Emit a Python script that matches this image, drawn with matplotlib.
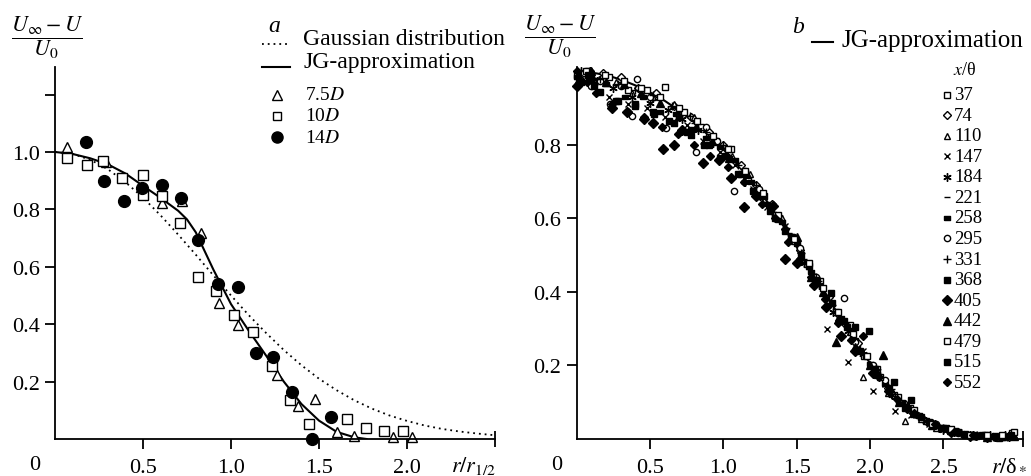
import matplotlib.pyplot as plt
from matplotlib.lines import Line2D

W, H = 1031, 477

plt.rcParams['font.family'] = ['Liberation Serif', 'DejaVu Serif']
plt.rcParams['mathtext.fontset'] = 'stix'

# ---------- panel a ----------
gauss_x = [0.0, 0.1, 0.2, 0.3, 0.4, 0.5, 0.6, 0.7, 0.8, 0.9, 1.0, 1.1, 1.2,
           1.3, 1.4, 1.5, 1.6, 1.7, 1.8, 1.9, 2.0, 2.1, 2.2, 2.3, 2.4, 2.5]
gauss_y = [1.000, 0.993, 0.973, 0.940, 0.895, 0.841, 0.779, 0.712, 0.642,
           0.570, 0.500, 0.432, 0.369, 0.310, 0.257, 0.210, 0.170, 0.135,
           0.106, 0.082, 0.063, 0.047, 0.035, 0.026, 0.019, 0.013]

jg_a_x = [0, 0.1, 0.2, 0.3, 0.4, 0.5, 0.6, 0.7, 0.75, 0.8, 0.85, 0.9, 0.95,
          1.0, 1.1, 1.2, 1.3, 1.4, 1.5, 1.6, 1.7, 1.77]
jg_a_y = [1.0, 0.993, 0.978, 0.957, 0.925, 0.882, 0.84, 0.795, 0.765, 0.72,
          0.655, 0.59, 0.53, 0.47, 0.378, 0.29, 0.2, 0.122, 0.064, 0.025,
          0.006, 0.0]

d75_x = [0.07, 0.29, 0.61, 0.72, 0.83, 0.93, 1.04, 1.26, 1.38, 1.48, 1.60,
         1.70, 1.92, 2.03]
d75_y = [1.017, 0.964, 0.822, 0.83, 0.718, 0.474, 0.398, 0.224, 0.114,
         0.139, 0.026, 0.01, 0.006, 0.006]

d10_x = [0.07, 0.18, 0.27, 0.38, 0.50, 0.50, 0.61, 0.71, 0.81, 0.915, 1.017,
         1.127, 1.231, 1.335, 1.445, 1.661, 1.765, 1.871, 1.979]
d10_y = [0.98, 0.956, 0.97, 0.908, 0.921, 0.851, 0.848, 0.753, 0.566, 0.515,
         0.433, 0.374, 0.254, 0.137, 0.052, 0.07, 0.037, 0.029, 0.028]

d14_x = [0.176, 0.278, 0.394, 0.494, 0.61, 0.716, 0.81, 0.924, 1.038, 1.142,
         1.236, 1.347, 1.458, 1.568]
d14_y = [1.034, 0.90, 0.828, 0.873, 0.886, 0.838, 0.693, 0.54, 0.528, 0.301,
         0.285, 0.165, 0.0, 0.075]

# ---------- panel b ----------
jg_b_x = [0.0, 0.1, 0.2, 0.3, 0.4, 0.5, 0.6, 0.7, 0.8, 0.9, 1.0, 1.1, 1.2,
          1.3, 1.4, 1.5, 1.6, 1.7, 1.8, 1.9, 2.0, 2.1, 2.2, 2.3, 2.4, 2.5,
          2.6, 2.7, 2.8, 2.9]
jg_b_y = [1.0, 0.997, 0.99, 0.978, 0.962, 0.943, 0.92, 0.893, 0.862, 0.827,
          0.788, 0.745, 0.698, 0.645, 0.585, 0.522, 0.457, 0.392, 0.328,
          0.265, 0.206, 0.153, 0.108, 0.072, 0.045, 0.027, 0.015, 0.008,
          0.004, 0.001]

b_labels = ['37', '74', '110', '147', '184', '221', '258', '295', '331',
            '368', '405', '442', '479', '515', '552']

b_x = {
    '37': [0.0, 0.12, 0.35, 0.60, 0.85, 1.05, 1.28, 1.47, 1.66, 1.86, 2.05,
           2.27, 2.5, 2.78, 2.97,
           0.08, 0.22, 0.48, 0.73, 0.95, 1.17, 1.38, 1.57, 1.77, 1.96, 2.16,
           2.38, 2.65, 2.88],
    '74': [0.02, 0.18, 0.42, 0.66, 0.9, 1.12, 1.33, 1.52, 1.72, 1.92, 2.12,
           2.35, 2.6, 2.85,
           0.09, 0.3, 0.54, 0.78, 1.0, 1.22, 1.42, 1.62, 1.82, 2.02, 2.24,
           2.47, 2.72, 2.95],
    '110': [0.0, 0.15, 0.38, 0.66, 0.95, 1.18, 1.4, 1.58, 1.78, 1.95, 2.12,
            2.24, 2.45, 2.7, 2.92,
            0.07, 0.27, 0.52, 0.8, 1.06, 1.28, 1.48, 1.68, 1.86, 2.03, 2.18,
            2.35, 2.58, 2.82],
    '147': [0.01, 0.22, 0.48, 0.75, 0.98, 1.2, 1.42, 1.62, 1.705, 1.85, 2.02,
            2.17, 2.4, 2.65, 2.88,
            0.12, 0.35, 0.6, 0.86, 1.08, 1.3, 1.52, 1.78, 1.95, 2.1, 2.28,
            2.52, 2.77, 2.98],
    '184': [0.03, 0.25, 0.5, 0.72, 0.93, 1.15, 1.36, 1.55, 1.75, 1.95, 2.15,
            2.38, 2.62, 2.82,
            0.14, 0.38, 0.62, 0.83, 1.04, 1.25, 1.46, 1.65, 1.85, 2.05, 2.27,
            2.5, 2.72, 2.92],
    '221': [0.05, 0.3, 0.55, 0.8, 1.02, 1.25, 1.45, 1.65, 1.85, 2.08, 2.3,
            2.55, 2.75, 2.95,
            0.18, 0.42, 0.67, 0.91, 1.14, 1.35, 1.55, 1.75, 1.96, 2.19, 2.42,
            2.65, 2.86],
    '258': [0.0, 0.2, 0.45, 0.68, 0.88, 1.08, 1.3, 1.5, 1.7, 1.9, 2.1, 2.33,
            2.58, 2.8,
            0.1, 0.33, 0.57, 0.78, 0.98, 1.19, 1.4, 1.6, 1.8, 2.0, 2.22, 2.45,
            2.7, 2.93],
    '295': [0.1, 0.23, 0.375, 0.41, 0.61, 0.81, 0.955, 1.07, 1.24, 1.52, 1.82,
            2.02, 2.2, 2.45, 2.72, 2.95,
            0.05, 0.16, 0.3, 0.5, 0.7, 0.88, 1.15, 1.35, 1.63, 1.72, 1.9, 2.1,
            2.32, 2.6, 2.85],
    '331': [0.04, 0.28, 0.52, 0.77, 1.0, 1.22, 1.43, 1.63, 1.83, 2.03, 2.25,
            2.5, 2.73, 2.93,
            0.16, 0.4, 0.65, 0.88, 1.1, 1.32, 1.53, 1.73, 1.93, 2.14, 2.37,
            2.62, 2.84],
    '368': [0.02, 0.27, 0.53, 0.78, 1.01, 1.24, 1.46, 1.73, 1.9, 1.995, 2.16,
            2.28, 2.52, 2.76,
            0.12, 0.4, 0.66, 0.9, 1.12, 1.35, 1.58, 1.82, 2.05, 2.4, 2.65,
            2.9],
    '405': [0.0, 0.24, 0.46, 0.59, 0.66, 0.86, 1.14, 1.34, 1.42, 1.62, 1.8,
            2.13, 2.42, 2.68,
            0.1, 0.34, 0.52, 0.72, 0.97, 1.05, 1.22, 1.5, 1.7, 1.9, 2.02, 2.25,
            2.55, 2.8],
    '442': [0.01, 0.2, 0.44, 0.7, 0.92, 1.16, 1.38, 1.5, 1.68, 1.77, 2.09,
            2.3, 2.55, 2.7, 2.9,
            0.1, 0.32, 0.57, 0.81, 1.04, 1.27, 1.6, 1.9, 2.0, 2.2, 2.42, 2.8,
            2.98],
    '479': [0.06, 0.32, 0.57, 0.82, 1.03, 1.27, 1.48, 1.68, 1.88, 2.07, 2.3,
            2.55, 2.8, 2.98,
            0.19, 0.44, 0.7, 0.93, 1.15, 1.37, 1.58, 1.78, 1.98, 2.19, 2.42,
            2.68, 2.9],
    '515': [0.03, 0.16, 0.4, 0.63, 0.87, 1.1, 1.32, 1.53, 1.74, 1.93, 2.13,
            2.35, 2.6, 2.85,
            0.08, 0.28, 0.52, 0.75, 0.98, 1.2, 1.42, 1.64, 1.84, 2.03, 2.24,
            2.48, 2.72, 2.96],
    '552': [0.0, 0.13, 0.35, 0.58, 0.8, 1.03, 1.26, 1.44, 1.6, 1.78, 1.95,
            2.18, 2.44, 2.7,
            0.07, 0.24, 0.46, 0.69, 0.91, 1.14, 1.35, 1.52, 1.69, 1.87, 2.06,
            2.3, 2.57, 2.85],
}
b_y = {
    '37': [0.99, 0.975, 0.95, 0.958, 0.85, 0.79, 0.66, 0.55, 0.43, 0.31, 0.19,
           0.085, 0.03, 0.012, 0.015,
           1.0, 0.985, 0.95, 0.89, 0.81, 0.71, 0.6, 0.475, 0.345, 0.225, 0.12,
           0.05, 0.012, 0.004],
    '74': [0.98, 0.995, 0.955, 0.905, 0.835, 0.745, 0.64, 0.515, 0.385, 0.26,
           0.14, 0.06, 0.02, 0.006,
           1.0, 0.985, 0.94, 0.875, 0.8, 0.69, 0.57, 0.44, 0.315, 0.195,
           0.095, 0.03, 0.007, 0.006],
    '110': [0.97, 0.98, 0.94, 0.91, 0.81, 0.72, 0.6, 0.47, 0.33, 0.168, 0.125,
            0.05, 0.03, 0.008, 0.01,
            0.995, 0.97, 0.93, 0.875, 0.77, 0.65, 0.54, 0.41, 0.29, 0.19,
            0.115, 0.055, 0.018, 0.008],
    '147': [0.99, 0.93, 0.90, 0.855, 0.78, 0.68, 0.58, 0.44, 0.30, 0.21,
            0.131, 0.077, 0.04, 0.012, 0.005,
            0.96, 0.91, 0.875, 0.81, 0.745, 0.63, 0.5, 0.33, 0.24, 0.15,
            0.065, 0.025, 0.008, 0.01],
    '184': [1.0, 0.955, 0.915, 0.87, 0.805, 0.7, 0.6, 0.48, 0.345, 0.23,
            0.12, 0.05, 0.015, 0.01,
            0.975, 0.93, 0.895, 0.84, 0.765, 0.66, 0.55, 0.42, 0.295, 0.185,
            0.08, 0.025, 0.008, 0.012],
    '221': [0.99, 0.97, 0.925, 0.86, 0.785, 0.665, 0.56, 0.43, 0.3, 0.165,
            0.075, 0.025, 0.01, 0.004,
            0.975, 0.95, 0.9, 0.83, 0.725, 0.615, 0.49, 0.365, 0.23, 0.115,
            0.04, 0.012, 0.005],
    '258': [0.985, 0.965, 0.93, 0.885, 0.82, 0.76, 0.64, 0.53, 0.38, 0.27,
            0.15, 0.065, 0.025, 0.008,
            0.99, 0.93, 0.89, 0.825, 0.795, 0.7, 0.59, 0.455, 0.33, 0.205,
            0.1, 0.035, 0.009, 0.006],
    '295': [0.96, 0.91, 0.88, 0.98, 0.845, 0.78, 0.81, 0.676, 0.68, 0.52,
            0.384, 0.2, 0.1, 0.04, 0.01, 0.008,
            0.995, 0.975, 0.96, 0.93, 0.875, 0.85, 0.73, 0.61, 0.44, 0.37,
            0.265, 0.16, 0.065, 0.015, 0.006],
    '331': [0.975, 0.965, 0.935, 0.88, 0.8, 0.69, 0.575, 0.44, 0.315, 0.19,
            0.09, 0.03, 0.01, 0.006,
            0.98, 0.95, 0.905, 0.835, 0.745, 0.63, 0.505, 0.37, 0.245, 0.135,
            0.052, 0.015, 0.005],
    '368': [0.97, 0.92, 0.885, 0.84, 0.77, 0.66, 0.55, 0.397, 0.305, 0.294,
            0.155, 0.107, 0.03, 0.012,
            0.96, 0.905, 0.86, 0.8, 0.72, 0.6, 0.47, 0.32, 0.175, 0.045,
            0.014, 0.006],
    '405': [0.96, 0.9, 0.87, 0.79, 0.80, 0.75, 0.63, 0.634, 0.49, 0.42, 0.28,
            0.13, 0.04, 0.008,
            0.98, 0.89, 0.86, 0.84, 0.76, 0.71, 0.66, 0.48, 0.36, 0.24, 0.18,
            0.085, 0.02, 0.006],
    '442': [0.99, 0.97, 0.94, 0.88, 0.81, 0.72, 0.6, 0.55, 0.4, 0.264, 0.229,
            0.07, 0.025, 0.01, 0.008,
            1.0, 0.965, 0.915, 0.85, 0.765, 0.665, 0.44, 0.25, 0.2, 0.1,
            0.038, 0.006, 0.009],
    '479': [1.0, 0.975, 0.93, 0.865, 0.79, 0.67, 0.545, 0.41, 0.285, 0.17,
            0.08, 0.028, 0.01, 0.018,
            0.99, 0.955, 0.9, 0.825, 0.73, 0.61, 0.48, 0.345, 0.225, 0.115,
            0.04, 0.01, 0.012],
    '515': [0.97, 0.945, 0.91, 0.865, 0.8, 0.72, 0.62, 0.5, 0.37, 0.24, 0.14,
            0.06, 0.018, 0.007,
            0.99, 0.92, 0.89, 0.835, 0.765, 0.675, 0.565, 0.43, 0.305, 0.19,
            0.085, 0.03, 0.008, 0.01],
    '552': [1.0, 0.94, 0.89, 0.85, 0.8, 0.74, 0.64, 0.535, 0.44, 0.315, 0.28,
            0.11, 0.04, 0.01,
            0.97, 0.91, 0.875, 0.83, 0.77, 0.7, 0.6, 0.49, 0.38, 0.27, 0.17,
            0.07, 0.02, 0.006],
}

rect = [(-1, -0.45), (1, -0.45), (1, 0.45), (-1, 0.45), (-1, -0.45)]
# marker, size, filled
b_style = {
    '37': ('s', 4.5, False), '74': ('D', 4.5, False), '110': ('^', 5, False),
    '147': ('x', 4.5, True), '184': ((6, 2, 0), 6, True), '221': ('_', 4.5, True),
    '258': (rect, 5, True), '295': ('o', 4.5, False), '331': ('+', 6, True),
    '368': ('s', 5, True), '405': ('D', 5.5, True), '442': ('^', 6, True),
    '479': ('s', 4, False), '515': ('s', 4, True), '552': ('D', 4, True),
}


def fx(px):
    return px / W


def fy(py):
    return 1 - py / H


def style_axes(ax):
    for s in ['top', 'right']:
        ax.spines[s].set_visible(False)
    for s in ['left', 'bottom']:
        ax.spines[s].set_linewidth(1.3)
    ax.tick_params(axis='both', which='major', direction='out', length=7,
                   width=1.3, labelsize=16)
    ax.tick_params(axis='x', pad=6.5)
    ax.tick_params(axis='y', pad=4)
    ax.tick_params(axis='x', which='minor', direction='inout', length=11,
                   width=1.3)


def mk(ax, x, y, marker, ms, filled, **kw):
    ax.plot(x, y, linestyle='none', marker=marker, markersize=ms,
            color='black', markerfacecolor='black' if filled else 'white',
            markeredgecolor='black', markeredgewidth=1.0, clip_on=False, **kw)


fig = plt.figure(figsize=(W / 100, H / 100), dpi=100)

# ---- panel a ----
ax1 = fig.add_axes([fx(55), fy(440), (495 - 55) / W, (440 - 68) / H])
style_axes(ax1)
ax1.set_xlim(0, 2.5)
ax1.set_ylim(0, 1.296)
ax1.set_xticks([0.5, 1.0, 1.5, 2.0])
ax1.set_xticklabels(['0.5', '1.0', '1.5', '2.0'])
ax1.set_xticks([2.5], minor=True)
ax1.set_yticks([0.2, 0.4, 0.6, 0.8, 1.0, 1.2])
ax1.set_yticklabels(['0.2', '0.4', '0.6', '0.8', '1.0', ''])

ax1.plot(gauss_x, gauss_y, color='black', lw=1.3, linestyle=(0, (1, 2.2)))
ax1.plot(jg_a_x, jg_a_y, color='black', lw=1.5)
mk(ax1, d75_x, d75_y, '^', 7.5, False)
mk(ax1, d10_x, d10_y, 's', 6.5, False)
mk(ax1, d14_x, d14_y, 'o', 8.5, True)

# ---- panel b ----
ax2 = fig.add_axes([fx(576.7), fy(440), (1022.7 - 576.7) / W, (440 - 68) / H])
style_axes(ax2)
ax2.set_xlim(0, 3.04)
ax2.set_ylim(0, 1.012)
ax2.set_xticks([0.5, 1.0, 1.5, 2.0, 2.5])
ax2.set_xticklabels(['0.5', '1.0', '1.5', '2.0', '2.5'])
ax2.set_xticks([3.04], minor=True)
ax2.set_yticks([0.2, 0.4, 0.6, 0.8])
ax2.set_yticklabels(['0.2', '0.4', '0.6', '0.8'])

ax2.plot(jg_b_x, jg_b_y, color='black', lw=1.5)
for lab in b_labels:
    m, ms, filled = b_style[lab]
    mk(ax2, b_x[lab], b_y[lab], m, ms, filled)

# ---- axis labels and annotations ----
ylab = r'$\dfrac{U_\infty - U}{U_0}$'
fig.text(fx(47), fy(38), ylab, fontsize=16, ha='center', va='center')
fig.text(fx(560), fy(37), ylab, fontsize=16, ha='center', va='center')
fig.text(fx(35), fy(466), '0', fontsize=16, ha='center', va='center')
fig.text(fx(557), fy(466), '0', fontsize=16, ha='center', va='center')
fig.text(fx(496), fy(466), r'$r/r_{1/2}$', fontsize=16, ha='right', va='center')
fig.text(fx(1028), fy(466), r'$r/$δ$_*$', fontsize=16, ha='right', va='center')
fig.text(fx(268), fy(31.7), 'a', fontsize=17, style='italic', ha='left',
         va='baseline')
fig.text(fx(792), fy(33), 'b', fontsize=17, style='italic', ha='left',
         va='baseline')

# legend, panel a
fig.add_artist(Line2D([fx(262), fx(288)], [fy(45), fy(45)], color='black',
                      lw=1.3, linestyle=(0, (1, 2.2))))
fig.text(fx(303), fy(45), 'Gaussian distribution', fontsize=17,
         va='baseline')
fig.add_artist(Line2D([fx(262), fx(290)], [fy(68), fy(68)], color='black',
                      lw=1.5))
fig.text(fx(303), fy(68), 'JG-approximation', fontsize=17, va='baseline')

a_leg = [('^', 7, False, r'7.5$D$'), ('s', 6, False, r'10$D$'),
         ('o', 8, True, r'14$D$')]
for i, (m, ms, filled, txt) in enumerate(a_leg):
    base = 100 + 21.4 * i
    fig.add_artist(Line2D([fx(276.7)], [fy(base - 4.5)], linestyle='none',
                          marker=m, markersize=ms, color='black',
                          markerfacecolor='black' if filled else 'white',
                          markeredgewidth=1.0))
    fig.text(fx(305), fy(base), txt, fontsize=14, va='baseline')

# legend, panel b
fig.add_artist(Line2D([fx(812), fx(833)], [fy(43.3), fy(43.3)],
                      color='black', lw=1.5))
fig.text(fx(841), fy(46.7), 'JG-approximation', fontsize=18, va='baseline')
fig.text(fx(953), fy(75), r'$x$/θ', fontsize=13, va='baseline')
for i, lab in enumerate(b_labels):
    base = 100 + 20.57 * i
    m, ms, filled = b_style[lab]
    fig.add_artist(Line2D([fx(947)], [fy(base - 4.5)], linestyle='none',
                          marker=m, markersize=ms, color='black',
                          markerfacecolor='black' if filled else 'white',
                          markeredgewidth=1.0))
    fig.text(fx(954), fy(base), lab, fontsize=13.5, va='baseline')

fig.savefig('out.png', dpi=100)
